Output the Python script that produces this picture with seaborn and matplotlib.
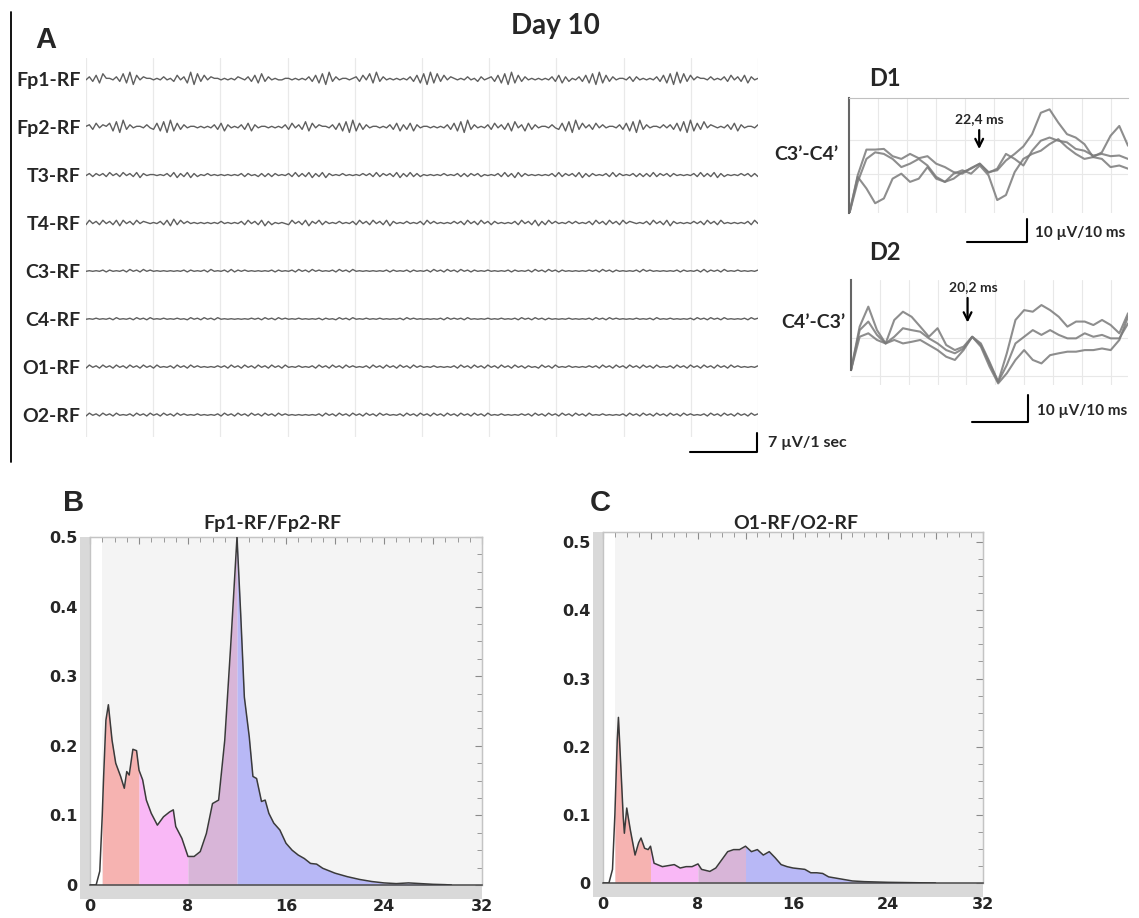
import numpy as np
import matplotlib
matplotlib.use("Agg")
import matplotlib.pyplot as plt
from matplotlib.patches import Rectangle
from matplotlib.lines import Line2D
from matplotlib.ticker import MultipleLocator
import seaborn as sns

# ---------------- data ----------------
channels = ["Fp1-RF", "Fp2-RF", "T3-RF", "T4-RF", "C3-RF", "C4-RF", "O1-RF", "O2-RF"]
eeg_seconds = 10
# raw EEG deflections (digit levels, 4.5 = baseline), one string per channel
eeg_samples = {
    "Fp1-RF": "".join(["4637285546", "3829174655", "4546453746", "2918374655", "4545465463",
                       "7283645445", "5454546372", "8193645545", "6374829364", "5454546372",
                       "8192837465", "4546453645", "6372819273", "6454545463", "7263546372",
                       "8192736455", "4636454546", "3728192837", "4655464546", "3746372645"]),
    "Fp2-RF": "".join(["5637465728", "1936455464", "3728192736", "4554545463", "7264546372",
                       "6455454546", "3746382746", "5546372819", "2736455454", "6372637264",
                       "5545454637", "2819364546", "3746372846", "2736455464", "3728193746",
                       "3746455463", "7281936455", "4646372819", "2738465454", "6372645546"]),
    "T3-RF": "".join(["4636463746", "3746372645", "5454637263", "7263546454", "5454546364",
                      "5363636454", "6373637263", "7264546454", "5464637364", "6372637363",
                      "5454546454", "6363646354", "5463736273", "6454545463", "7364637263",
                      "6454637364", "5463636373", "6463645454", "6373637263", "5454646363"]),
    "T4-RF": "".join(["3746374637", "2746374654", "5463728374", "6454545454", "6454546374",
                      "6372635454", "3746372647", "3645464546", "3746374637", "2645464546",
                      "3746454546", "4637463746", "3645454637", "4637263746", "4546464546",
                      "3746374637", "4654546374", "6372645454", "6463746374", "5454546374"]),
    "C3-RF": "".join(["4545463645", "4637463746", "4545454546", "3645463745", "4637364645",
                      "4545463645", "4637463746", "4546374637", "4545454546", "3645463645",
                      "4637463746", "3746364546", "4545463645", "4637463746", "3645454546",
                      "4637463645", "4546374645", "4545463645", "4637364637", "4546454546"]),
    "C4-RF": "".join(["4546454637", "4546374637", "4546454645", "3746374637", "4545454546",
                      "4637463746", "4546454546", "3645374637", "4546454645", "4546374645",
                      "4545463746", "4637454546", "4546454637", "4637463645", "4546454546",
                      "3746374645", "4546454637", "4546454546", "3746374637", "4545463746"]),
    "O1-RF": "".join(["3746374637", "4637463746", "3745463746", "3746454546", "4637463746",
                      "3746374637", "4546454637", "4637463746", "4546374637", "4637463746",
                      "4546454546", "3746374637", "4637463746", "3645374637", "4546454546",
                      "4637463746", "3746374637", "4546374637", "4637463746", "3746454546"]),
    "O2-RF": "".join(["3746374637", "4546374637", "4637463746", "4546454546", "3746374637",
                      "4637463746", "4545454546", "3746374637", "4637463746", "4546374637",
                      "4637463746", "3746374637", "4546454546", "4637463746", "3746374637",
                      "4546454546", "3746374637", "4637463746", "4546374637", "4637463746"]),
}

# evoked potentials (ms, µV)
ep_ms = [0, 1.5, 3, 4.5, 6, 7.5, 9, 10.5, 12, 13.5, 15, 16.5, 18, 19.5, 21, 22.5, 24,
         25.5, 27, 28.5, 30, 31.5, 33, 34.5, 36, 37.5, 39, 40.5, 42, 43.5, 45, 46.5, 48]
d1_a = [-26.8, -9.4, 1.9, 1.9, 2.2, -1.0, -2.2, 0.0, -1.9, -1.0, -4.3, -5.8, -8.0, -8.7, -6.2, -4.3, -8.0,
        -7.2, -2.9, 0.0, 3.3, 8.7, 18.1, 19.6, 13.8, 8.7, 7.2, 4.3, -1.4, 0.7, 8.0, 12.3, 3.6]
d1_b = [-26.8, -12.3, -2.2, 0.7, 0.0, -2.2, -5.8, -4.3, -2.2, -5.1, -10.1, -12.3, -10.9, -8.0, -6.5, -4.3, -8.3,
        -6.5, 0.0, -2.2, -5.1, 1.4, 5.8, 7.2, 5.8, 5.1, 2.2, 1.4, -0.7, 0.0, -1.0, -0.7, -2.2]
d1_c = [-26.8, -10.1, -15.2, -21.7, -19.6, -10.9, -8.7, -12.3, -10.9, -5.8, -10.9, -12.3, -8.7, -7.2, -8.7, -5.1, -9.4,
        -20.3, -18.1, -8.0, -2.2, 0.0, 1.4, 4.3, 6.5, 2.9, 0.0, -2.2, -1.4, -2.2, -5.8, -5.1, -6.5]
d2_a = [-11.9, 4.4, 11.9, 3.1, -1.9, 6.9, 10.0, 8.1, 4.4, 0.6, 3.8, -2.5, -4.4, -3.1, 0.6, -1.9, -8.8,
        -16.3, -5.6, 6.9, 10.6, 10.0, 12.5, 10.6, 8.1, 4.4, 6.3, 6.3, 5.0, 6.9, 5.0, 1.9, 9.4]
d2_b = [-11.9, 3.1, 6.3, 1.3, -1.9, 0.6, 3.8, 3.1, 2.5, 0.0, -1.9, -4.4, -5.6, -3.8, 0.6, -2.5, -9.4,
        -16.3, -10.0, -1.9, 0.6, 3.1, 1.3, 3.1, 1.3, 0.0, 0.0, 1.9, 0.6, 1.3, 0.0, 0.0, 5.6]
d2_c = [-11.9, 0.6, 1.9, -0.6, -1.9, -0.6, -1.9, -1.3, -0.6, -2.5, -4.4, -6.9, -8.1, -4.4, 0.6, -3.1, -10.6,
        -16.9, -13.1, -8.1, -4.4, -8.1, -9.4, -6.3, -5.6, -5.0, -5.0, -4.4, -4.4, -3.8, -4.4, -0.6, 8.1]
d1_latency = 22.4
d2_latency = 20.2

# power spectra (Hz, relative power)
freq_b = [0, 0.5, 0.8, 1.0, 1.1, 1.3, 1.5, 1.8, 2.1, 2.5, 2.8, 3.0, 3.2, 3.5, 3.8, 4.0, 4.3, 4.6, 5.0, 5.5,
          6.0, 6.5, 6.8, 7.0, 7.5, 8.0, 8.5, 9.0, 9.5, 10.0, 10.5, 11.0, 11.5, 12.0, 12.3, 12.6, 13.0, 13.3,
          13.6, 14.0, 14.3, 14.6, 15.0, 15.5, 16.0, 16.5, 17.0, 17.5, 18.0, 18.5, 19, 20, 21, 22, 23, 24,
          25, 26, 27, 28, 29, 29.5]
pow_b = [0, 0, 0.02, 0.10, 0.15, 0.237, 0.259, 0.208, 0.175, 0.156, 0.139, 0.163, 0.158, 0.195, 0.193,
         0.165, 0.151, 0.122, 0.103, 0.086, 0.098, 0.105, 0.108, 0.084, 0.067, 0.041, 0.041, 0.048, 0.074,
         0.117, 0.122, 0.208, 0.348, 0.5, 0.39, 0.27, 0.213, 0.156, 0.153, 0.12, 0.122, 0.103, 0.089, 0.079,
         0.06, 0.05, 0.043, 0.038, 0.031, 0.03, 0.024, 0.017, 0.012, 0.008, 0.005, 0.003, 0.002, 0.003,
         0.002, 0.001, 0.0005, 0]
freq_c = [0, 0.5, 0.8, 1.0, 1.2, 1.3, 1.5, 1.7, 1.8, 2.0, 2.3, 2.7, 3.0, 3.2, 3.5, 3.8, 4.0, 4.3, 5.0, 6.0,
          6.5, 7.0, 7.5, 8.0, 8.3, 9.0, 9.5, 10.0, 10.5, 11.0, 11.5, 12, 12.5, 13, 13.5, 14, 14.5, 15, 15.5,
          16, 17, 17.5, 18, 18.5, 19, 20, 21, 22, 24, 28]
pow_c = [0, 0, 0.02, 0.10, 0.21, 0.243, 0.171, 0.098, 0.073, 0.11, 0.078, 0.041, 0.059, 0.066, 0.051,
         0.049, 0.054, 0.029, 0.024, 0.027, 0.022, 0.024, 0.024, 0.028, 0.02, 0.017, 0.022, 0.034, 0.046,
         0.049, 0.049, 0.054, 0.046, 0.049, 0.041, 0.046, 0.037, 0.027, 0.024, 0.022, 0.02, 0.015, 0.015,
         0.014, 0.009, 0.006, 0.003, 0.002, 0.001, 0.0]
bands = [(1, 4), (4, 8), (8, 12), (12, 32)]
band_colors = ["#f6b3b1", "#f9b8f6", "#d8b5d8", "#b8b8f6"]
spec_xticks = [0, 4, 8, 12, 16, 20, 24, 28, 32]
spec_xlabels = ["0", "", "8", "", "16", "", "24", "", "32"]
spec_yticks = [0, 0.1, 0.2, 0.3, 0.4, 0.5]
spec_ylabels = ["0", "0.1", "0.2", "0.3", "0.4", "0.5"]

# ---------------- figure ----------------
sns.set_style("white")
plt.rcParams["font.family"] = ["Lato", "DejaVu Sans"]
plt.rcParams["font.weight"] = "bold"

W, H = 1139, 918
fig = plt.figure(figsize=(W / 100, H / 100), dpi=100)
fig.patch.set_facecolor("white")


def box(l, t, r, b):
    return [l / W, 1 - b / H, (r - l) / W, (b - t) / H]


def fig_line(xs, ys, **kw):
    fig.add_artist(Line2D([x / W for x in xs], [1 - y / H for y in ys],
                          transform=fig.transFigure, **kw))


def fig_text(x, y, s, **kw):
    kw.setdefault("fontweight", "bold")
    fig.text(x / W, 1 - y / H, s, **kw)


# ---- panel A: EEG ----
ax = fig.add_axes(box(86, 58, 758, 437))
eeg_gain = [0.032, 0.032, 0.021, 0.023, 0.013, 0.011, 0.016, 0.015]
for i, ch in enumerate(channels):
    vals = np.array([int(c) for c in eeg_samples[ch]], float)
    t = np.linspace(0, eeg_seconds, len(vals))
    y = i - (vals - 4.5) * eeg_gain[i]
    sns.lineplot(x=t, y=y, ax=ax, color="#5f5f5f", lw=1.0, estimator=None, sort=False)
ax.set_xlim(0, eeg_seconds)
ax.set_ylim(7.46, -0.44)
ax.set_xticks(range(eeg_seconds + 1))
ax.tick_params(axis="x", length=0, labelbottom=False)
ax.grid(axis="x", color="#e9e9e9", lw=0.9)
ax.set_yticks(range(len(channels)))
ax.set_yticklabels(channels, fontsize=14, fontweight="bold")
ax.tick_params(axis="y", length=0, pad=4)
ax.set_facecolor("none")
for s in ax.spines.values():
    s.set_visible(False)
ax.set_xlabel("")
ax.set_ylabel("")

fig_line([11, 11], [12, 462], color="black", lw=1.3)
fig_text(46, 40, "A", fontsize=21, family="Liberation Sans", ha="center", va="center")
fig_text(555, 26, "Day 10", fontsize=20, ha="center", va="center")
fig_line([690, 757, 757], [452, 452, 433], color="black", lw=1.5)
fig_text(768, 443, "7 µV/1 sec", fontsize=11.5, va="center")


# ---- panels D1 / D2 ----
def ep_panel(rect, traces, ylim, xgrid, ygrid, latency, arrow_from, arrow_to, text_xy, label):
    a = fig.add_axes(box(*rect))
    for tr in traces:
        sns.lineplot(x=ep_ms, y=tr, ax=a, color="#7a7a7a", lw=1.5, alpha=0.85,
                     estimator=None, sort=False)
    a.set_xlim(0, 48)
    a.set_ylim(*ylim)
    a.set_xticks(xgrid)
    a.set_yticks(ygrid)
    a.tick_params(length=0, labelbottom=False, labelleft=False)
    a.grid(True, color="#e8e8e8", lw=0.8)
    a.set_facecolor("none")
    for s in a.spines.values():
        s.set_visible(False)
    a.spines["left"].set_visible(True)
    a.spines["left"].set_color("#666666")
    a.spines["left"].set_linewidth(1.5)
    a.annotate("", xy=(latency, arrow_to), xytext=(latency, arrow_from),
               arrowprops=dict(arrowstyle="->", color="black", lw=1.6, mutation_scale=14))
    a.text(text_xy[0], text_xy[1], label, ha="center", va="center", fontsize=10, fontweight="bold")
    a.set_xlabel("")
    a.set_ylabel("")
    return a


axd1 = ep_panel((849, 98, 1128, 213), [d1_a, d1_b, d1_c], (-26, 24.6),
                np.arange(5, 48, 5), [-9, 6], d1_latency, 11.7, 0.9, (22.4, 15.5), "22,4 ms")
axd1.spines["top"].set_visible(True)
axd1.spines["top"].set_color("#c0c0c0")
axd2 = ep_panel((851, 280, 1128, 385), [d2_a, d2_b, d2_c], (-17.5, 21.9),
                np.arange(5, 48, 5), [-14, 0], d2_latency, 16.2, 4.9, (21.2, 19.3), "20,2 ms")
axd2.spines["left"].set_bounds(-12, 21.9)

fig_text(885, 79, "D1", fontsize=17, ha="center", va="center")
fig_text(838, 154, "C3’-C4’", fontsize=14, ha="right", va="center")
fig_line([967, 1027, 1027], [242, 242, 219], color="black", lw=1.5)
fig_text(1035, 233, "10 µV/10 ms", fontsize=11, va="center")

fig_text(885, 252, "D2", fontsize=17, ha="center", va="center")
fig_text(845, 323, "C4’-C3’", fontsize=14, ha="right", va="center")
fig_line([972, 1028, 1028], [422, 422, 395], color="black", lw=1.5)
fig_text(1037, 411, "10 µV/10 ms", fontsize=11, va="center")


# ---- panels B / C: spectra ----
def spectrum(rect, freqs, power, ytop):
    a = fig.add_axes(box(*rect))
    a.set_facecolor("#f4f4f4")
    a.axvspan(0, 1, color="white", lw=0, zorder=0)
    f = np.asarray(freqs, float)
    p = np.asarray(power, float)
    for (lo, hi), col in zip(bands, band_colors):
        hi_eff = min(hi, f[-1])
        inner = (f > lo) & (f < hi_eff)
        xs = np.concatenate([[lo], f[inner], [hi_eff]])
        ys = np.interp(xs, f, p)
        a.fill_between(xs, 0, ys, color=col, lw=0, zorder=1)
    sns.lineplot(x=f, y=p, ax=a, color="#3a3a3a", lw=1.1, estimator=None, sort=False, zorder=3)
    a.set_xlim(0, 32)
    a.set_ylim(0, ytop)
    a.set_xticks(spec_xticks)
    a.set_xticklabels(spec_xlabels)
    a.set_yticks(spec_yticks)
    a.set_yticklabels(spec_ylabels)
    a.xaxis.set_minor_locator(MultipleLocator(1))
    a.yaxis.set_minor_locator(MultipleLocator(0.025))
    a.tick_params(which="both", direction="out", color="#7a7a7a", width=0.8)
    a.tick_params(which="major", length=7)
    a.tick_params(which="minor", length=4)
    a.tick_params(axis="x", pad=3)
    a.tick_params(axis="y", pad=2)
    for lab in a.get_xticklabels() + a.get_yticklabels():
        lab.set_family("DejaVu Sans")
        lab.set_fontweight("bold")
        lab.set_fontsize(11.5)
    for side in ("top", "right", "left"):
        a.spines[side].set_color("#c4c4c4")
        a.spines[side].set_linewidth(1.0)
    a.spines["bottom"].set_color("#555555")
    a.spines["bottom"].set_linewidth(1.2)
    a.set_xlabel("")
    a.set_ylabel("")
    # inward ticks on top / right
    sx = a.secondary_xaxis("top")
    sx.set_xticks(spec_xticks)
    sx.xaxis.set_minor_locator(MultipleLocator(1))
    sx.tick_params(which="both", direction="in", color="#8a8a8a", labeltop=False)
    sx.tick_params(which="major", length=5)
    sx.tick_params(which="minor", length=3.5)
    sx.spines["top"].set_color("#c4c4c4")
    sy = a.secondary_yaxis("right")
    sy.set_yticks(spec_yticks)
    sy.yaxis.set_minor_locator(MultipleLocator(0.025))
    sy.tick_params(which="both", direction="in", color="#8a8a8a", labelright=False)
    sy.tick_params(which="major", length=5)
    sy.tick_params(which="minor", length=3.5)
    sy.spines["right"].set_color("#c4c4c4")
    # grey frame bands (left and bottom)
    wpx = rect[2] - rect[0]
    hpx = rect[3] - rect[1]
    bw, bh = 10 / wpx, 14 / hpx
    a.add_patch(Rectangle((-bw, -bh), bw, 1 + bh, transform=a.transAxes, clip_on=False,
                          facecolor="#d9d9d9", edgecolor="none", zorder=-1))
    a.add_patch(Rectangle((0, -bh), 1, bh, transform=a.transAxes, clip_on=False,
                          facecolor="#d9d9d9", edgecolor="none", zorder=-1))
    return a


spectrum((90, 537, 482, 885), freq_b, pow_b, 0.5)
spectrum((603, 532, 983, 883), freq_c, pow_c, 0.515)

fig_text(74, 503, "B", fontsize=21, family="Liberation Sans", ha="center", va="center")
fig_text(272, 524, "Fp1-RF/Fp2-RF", fontsize=14, ha="center", va="center")
fig_text(600, 503, "C", fontsize=21, family="Liberation Sans", ha="center", va="center")
fig_text(796, 523, "O1-RF/O2-RF", fontsize=14, ha="center", va="center")

fig.savefig("out.png", dpi=100, facecolor="white")
